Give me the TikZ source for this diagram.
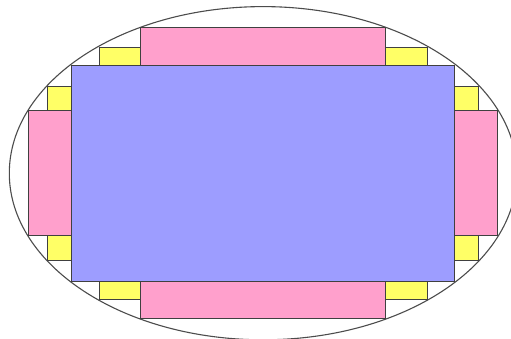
\documentclass[tikz,border=0pt]{standalone}
\begin{document}
\begin{tikzpicture}[x=1pt,y=-1pt,
  box/.style={draw=black!75,line width=0.9pt},
  bluebox/.style={box,fill={rgb,255:red,157;green,157;blue,255}},
  pinkbox/.style={box,fill={rgb,255:red,255;green,160;blue,204}},
  yellowbox/.style={box,fill={rgb,255:red,255;green,255;blue,102}}]
\useasboundingbox (0,0) rectangle (511,338);
\clip (0,0) rectangle (511,338);
\draw[black!70,line width=1.1pt,fill=white] (263.1,173.2) ellipse [x radius=253.8, y radius=166.6];
% yellow
\draw[yellowbox] (99,47) rectangle (140.3,65);
\draw[yellowbox] (385,47) rectangle (427,65);
\draw[yellowbox] (99,281.3) rectangle (140.3,299.5);
\draw[yellowbox] (385,281.3) rectangle (427,299.5);
\draw[yellowbox] (47.7,86) rectangle (71.7,110.3);
\draw[yellowbox] (47.7,235.3) rectangle (71.7,260.7);
\draw[yellowbox] (454.7,86) rectangle (478.3,110.3);
\draw[yellowbox] (454.7,235.3) rectangle (478.3,260.7);
% pink
\draw[pinkbox] (140.3,27.3) rectangle (385,65);
\draw[pinkbox] (140.3,281.3) rectangle (385,318.5);
\draw[pinkbox] (28.7,110.3) rectangle (71.7,235.3);
\draw[pinkbox] (454.7,110.3) rectangle (497.3,235.3);
% blue
\draw[bluebox] (71.7,65) rectangle (454.7,281.3);
\end{tikzpicture}
\end{document}
